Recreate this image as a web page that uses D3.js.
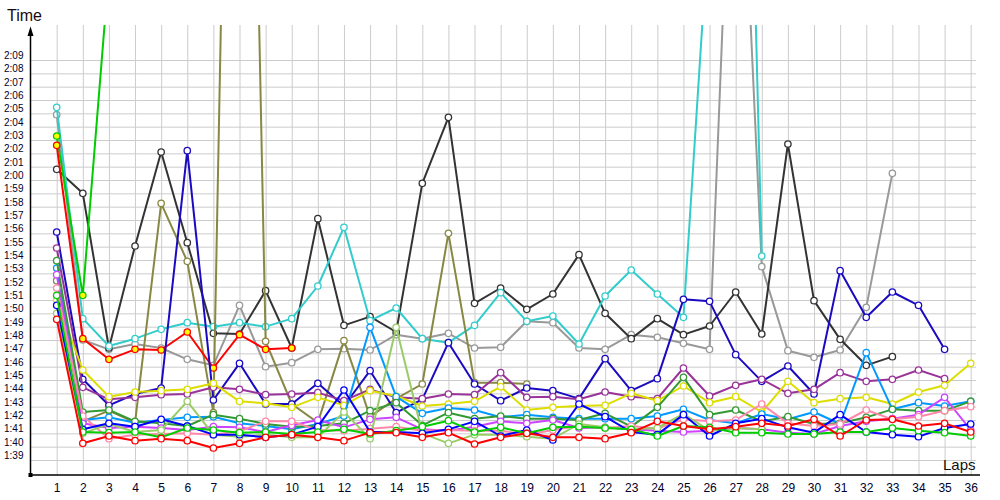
<!DOCTYPE html>
<html><head><meta charset="utf-8">
<script src="https://cdn.jsdelivr.net/npm/d3@7"></script>
<style>
body{margin:0;background:#fff;}
svg{display:block;font-family:"Liberation Sans",Arial,sans-serif;}
</style>
</head><body>
<svg id="chart" width="1000" height="500"></svg>
<script>
// ---------- data (lap times in seconds) ----------
const laps = d3.range(1, 37);
const yTickSeconds = d3.range(99, 130); // 1:39 .. 2:09

const grayTimes = [124.9,108.0,107.3,107.7,107.4,106.55,106.1,110.6,106.0,106.3,107.3,107.35,107.25,108.4,108.1,108.5,107.4,107.45,109.4,109.3,107.4,107.3,108.4,108.2,107.75,107.3,156.2,113.5,107.2,106.7,107.25,110.45,120.5];
const darkTimes = [120.8,119.0,107.4,115.05,122.1,115.3,108.5,108.45,111.7,107.4,117.1,109.1,109.75,108.6,119.75,124.7,110.75,111.9,110.3,111.45,114.4,110.0,108.1,109.6,108.4,109.05,111.6,108.45,122.7,110.95,108.05,106.1,106.75];
const cyanTimes = [125.45,109.6,107.55,108.1,108.8,109.3,109.0,109.3,109.0,109.6,112.05,116.45,109.45,110.4,108.1,107.8,109.1,111.55,109.4,109.8,107.7,111.3,113.25,111.45,109.7,140.1,190.7,114.3];
const oliveTimes = [112.45,101.9,102.7,101.8,118.25,113.9,102.55,204.0,107.9,103.2,101.8,107.95,102.25,103.6,104.7,116.0,104.8,104.8,104.7];
const greenYellowTimes = [123.3,111.35,135.7];
const redYellowTimes = [122.6,108.1,106.55,107.3,107.25,108.6,105.9,108.4,107.3,107.4];
const darkBlueTimes = [116.1,105.05,103.1,103.95,104.4,122.2,103.5,106.25,103.2,103.2,104.75,103.05,105.7,102.55,103.55,107.8,104.7,103.45,104.4,104.2,103.6,106.6,104.2,105.1,111.05,110.9,106.9,104.9,106.05,103.95,113.2,109.7,111.6,110.6,107.3];
const purpleTimes = [114.9,104.45,103.55,103.7,103.9,103.95,104.45,104.3,103.9,103.95,104.05,103.45,104.3,103.7,103.6,103.95,103.9,105.55,103.7,103.75,103.55,104.1,103.75,103.6,105.9,103.8,104.6,105.05,104.0,104.3,105.55,104.9,105.05,105.75,105.1];
const yellowTimes = [111.0,105.75,103.75,104.1,104.2,104.3,104.75,103.4,103.25,102.95,103.7,103.1,104.2,103.8,103.05,103.2,103.4,104.5,102.75,102.95,103.05,103.1,104.0,103.45,104.55,103.3,103.75,102.6,104.9,103.3,103.6,103.7,103.2,104.1,104.6,106.25];
const skyBlueTimes = [113.4,102.0,102.2,101.8,102.0,102.2,102.25,101.75,101.55,101.3,101.7,102.3,108.95,103.75,102.5,102.9,102.75,102.2,102.4,102.2,102.1,102.1,102.1,102.3,102.8,102.0,101.75,102.45,102.05,102.6,101.7,107.05,102.8,103.3,103.05,103.4];
const darkGreenTimes = [113.95,102.6,102.75,101.9,101.75,101.55,102.4,102.1,101.7,101.5,101.55,101.75,102.7,103.3,101.6,102.55,102.1,102.3,102.1,102.1,102.0,102.5,101.5,102.95,105.2,102.4,102.75,101.9,102.25,101.7,101.75,102.2,102.8,102.7,102.7,103.4];
const magentaTimes = [112.9,101.75,101.4,101.5,101.4,101.25,101.5,101.45,101.1,101.6,102.0,101.45,102.05,102.2,101.3,101.2,101.5,101.9,101.75,102.0,101.4,101.45,101.3,101.2,101.1,101.2,101.4,101.3,101.05,100.95,101.55,101.9,102.1,102.4,103.7,101.25];
const pinkTimes = [111.9,102.3,100.6,100.9,100.95,101.0,100.9,101.15,101.9,101.9,101.25,101.2,101.35,101.5,101.2,101.25,101.2,101.2,100.9,101.25,101.55,101.4,101.55,101.35,102.05,101.9,102.0,103.2,101.75,101.55,101.7,102.75,102.05,102.25,102.7,103.0];
const lightOliveTimes = [110.0,101.0,101.7,101.1,101.25,103.4,100.9,100.75,100.9,100.7,100.7,102.6,100.6,108.95,101.0,100.25,100.9,100.9,100.75,100.6,101.7,101.45,101.3,101.4,102.45,101.2,101.4,101.3];
const blueTimes = [110.6,101.3,101.75,101.5,102.05,101.55,100.9,100.9,100.7,100.9,101.5,104.25,101.1,101.1,101.0,101.3,101.9,100.8,101.25,100.5,103.2,102.25,101.1,100.9,102.4,100.8,101.75,102.1,101.45,101.05,102.4,101.1,100.9,100.75,101.4,101.7];
const brightGreenTimes = [111.35,101.1,101.05,101.1,100.7,101.4,101.25,101.05,101.1,100.95,101.1,101.3,100.95,101.2,101.5,101.95,101.1,101.45,101.0,101.45,101.5,101.4,101.3,100.8,101.55,101.45,101.05,101.05,100.95,100.95,101.1,101.1,101.4,101.2,101.05,100.8];
const redTimes = [109.55,100.25,100.8,100.45,100.6,100.45,99.9,100.25,100.7,100.9,100.7,100.45,101.05,101.05,100.7,101.05,100.2,100.7,101.0,100.7,100.7,100.6,101.05,101.9,101.55,101.3,101.5,101.75,101.55,102.05,100.8,102.0,102.05,101.55,101.75,101.1];

// ---------- styles ----------
const series = [
  {v: grayTimes, c: "#999999", f: "#ffffff"},
  {v: darkTimes, c: "#333333", f: "#ffffff"},
  {v: cyanTimes, c: "#33cccc", f: "#ffffff"},
  {v: oliveTimes, c: "#888844", f: "#ffffff"},
  {v: greenYellowTimes, c: "#00cc00", f: "#ffff00"},
  {v: redYellowTimes, c: "#ff0000", f: "#ffff00"},
  {v: darkBlueTimes, c: "#1a0ac0", f: "#ffffff"},
  {v: purpleTimes, c: "#993399", f: "#ffffff"},
  {v: yellowTimes, c: "#dddd00", f: "#ffffff"},
  {v: skyBlueTimes, c: "#0099ff", f: "#ffffff"},
  {v: darkGreenTimes, c: "#339933", f: "#ffffff"},
  {v: magentaTimes, c: "#cc44ff", f: "#ffffff"},
  {v: pinkTimes, c: "#ff88aa", f: "#ffffff"},
  {v: lightOliveTimes, c: "#99cc66", f: "#ffffff"},
  {v: blueTimes, c: "#0000ff", f: "#ffffff"},
  {v: brightGreenTimes, c: "#00cc00", f: "#ffffff"},
  {v: redTimes, c: "#ff0000", f: "#ffffff"}
];

const L = 31, R = 976, T = 25, B = 475;
const svg = d3.select("#chart");
const x = d3.scaleLinear().domain([1, 36]).range([56.7, 970.7]);
const y = d3.scaleLinear().domain([99, 129]).range([460, 60]);
const fmt = s => Math.floor(s / 60) + ":" + d3.format("02")(s % 60);

// grid
const gy = svg.append("g").attr("transform", `translate(${L},0)`)
  .call(d3.axisLeft(y).tickValues(yTickSeconds).tickSize(-(R - L)).tickFormat(""));
gy.select(".domain").remove();
gy.selectAll("line").attr("stroke", "#cccccc");
const gx = svg.append("g").attr("transform", `translate(0,${B})`)
  .call(d3.axisBottom(x).tickValues(laps).tickSize(-(B - T)).tickFormat(""));
gx.select(".domain").remove();
gx.selectAll("line").attr("stroke", "#cccccc");

// y labels
const ay = svg.append("g").attr("transform", `translate(${L},0)`)
  .call(d3.axisLeft(y).tickValues(yTickSeconds).tickSize(0).tickFormat(fmt));
ay.select(".domain").remove();
ay.selectAll("text").attr("x", 4 - L).attr("dy", "-1.5").attr("text-anchor", "start")
  .attr("font-size", 10).attr("fill", "#00002a").attr("font-family", "'Liberation Sans',Arial,sans-serif");

// x labels
const ax = svg.append("g").attr("transform", `translate(0,${B})`)
  .call(d3.axisBottom(x).tickValues(laps).tickSize(0).tickFormat(d3.format("d")));
ax.select(".domain").remove();
ax.selectAll("text").attr("y", 16.5).attr("dy", 0).attr("font-size", 12).attr("fill", "#00002a")
  .attr("font-family", "'Liberation Sans',Arial,sans-serif");

// axes lines
svg.append("line").attr("x1", L - 0.5).attr("x2", L - 0.5).attr("y1", B).attr("y2", 34).attr("stroke", "#000").attr("stroke-width", 1.5);
svg.append("path").attr("d", `M${L - 0.5},26.5 L${L - 3.5},36 L${L + 2.5},36 Z`).attr("fill", "#000");
svg.append("line").attr("x1", L - 1).attr("x2", R + 4).attr("y1", B).attr("y2", B).attr("stroke", "#000").attr("stroke-width", 1.5);
svg.append("rect").attr("x", L - 2.5).attr("y", B - 2).attr("width", 4).attr("height", 4).attr("fill", "#000");

// titles
svg.append("text").attr("x", 7).attr("y", 20.5).attr("font-size", 16).attr("fill", "#200808").text("Time");
svg.append("text").attr("x", 943).attr("y", 470).attr("font-size", 15).attr("fill", "#111").text("Laps");

// clip
svg.append("clipPath").attr("id", "plotclip").append("rect")
  .attr("x", L).attr("y", T).attr("width", R - L).attr("height", B - T);

const plot = svg.append("g").attr("clip-path", "url(#plotclip)");
const line = d3.line().x((d, i) => x(laps[i])).y(d => y(d));

series.forEach(s => {
  const g = plot.append("g");
  g.append("path").attr("d", line(s.v)).attr("fill", "none").attr("stroke", s.c)
    .attr("stroke-width", 2).attr("stroke-linejoin", "round");
  g.selectAll("circle").data(s.v).join("circle")
    .attr("cx", (d, i) => x(laps[i])).attr("cy", d => y(d)).attr("r", 3.2)
    .attr("fill", s.f).attr("stroke", s.c).attr("stroke-width", 1.3);
});
</script>
</body></html>
